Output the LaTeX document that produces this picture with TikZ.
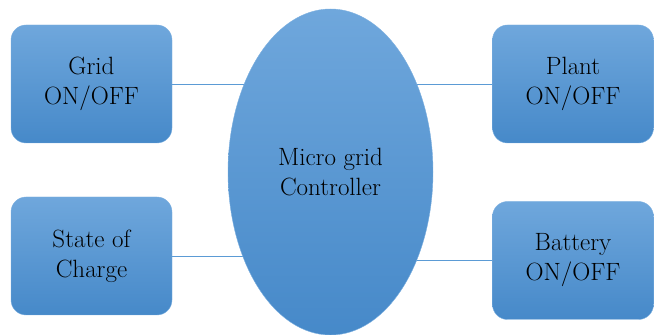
\documentclass[tikz,border=0pt]{standalone}
\usepackage{tikz}
\usetikzlibrary{shapes, backgrounds}

\definecolor{boxtop}{HTML}{6FA7DC}
\definecolor{boxbot}{HTML}{4689C9}
\definecolor{boxline}{HTML}{7DB0E0}
\definecolor{wire}{HTML}{5B9BD5}

\begin{document}
\begin{tikzpicture}[x=1pt, y=1pt, semithick,
	every node/.style={font=\fontsize{25}{30}\selectfont, align=center},
	unit/.style={rectangle, rounded corners=15pt, draw=boxline, thin, top color=boxtop, bottom color=boxbot, minimum width=161pt, minimum height=118pt, inner sep=0pt},
	core/.style={ellipse, draw=boxline, thin, top color=boxtop, bottom color=boxbot, minimum width=205pt, minimum height=326pt, inner sep=0pt},
	wire/.style={draw=wire, thin}]
		\useasboundingbox (0, 0) rectangle (654, 335);
		
		\node[core] (ctrl) at (330.5, 163) {Micro grid\\Controller};
		
		\node[unit] (grid) at (91.5, 251) {Grid\\ON/OFF};
		\node[unit] (soc) at (91.5, 79) {State of\\Charge};
		
		\node[unit] (plant) at (573, 251) {Plant\\ON/OFF};
		\node[unit] (batt) at (573, 74.5) {Battery\\ON/OFF};
		
		\begin{scope}[on background layer]
			\path[wire] (grid.east) -- (grid.east -| ctrl.center)
				(soc.east) -- (soc.east -| ctrl.center)
				(plant.west) -- (plant.west -| ctrl.center)
				(batt.west) -- (batt.west -| ctrl.center);
		\end{scope}
	\end{tikzpicture}
\end{document}
